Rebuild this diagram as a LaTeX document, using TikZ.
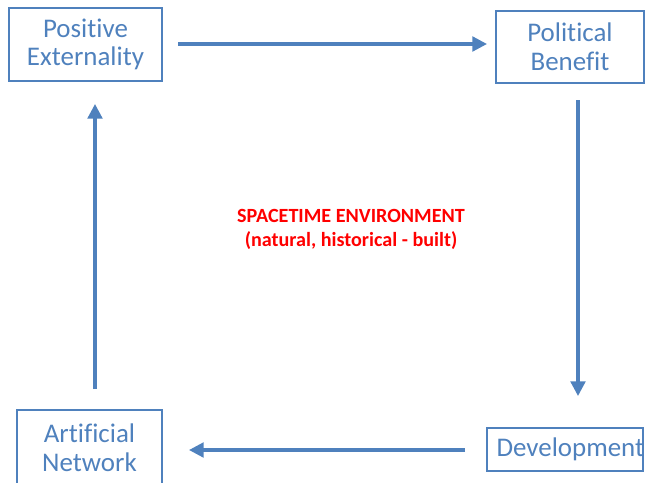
\documentclass[tikz,border=0pt]{standalone}
\usepackage{fontspec}
\setmainfont[Ligatures=NoCommon]{Carlito}
\usetikzlibrary{arrows.meta}
\definecolor{boxblue}{RGB}{79,129,189}
\definecolor{txtblue}{RGB}{79,129,189}
\definecolor{envred}{RGB}{255,0,0}
\begin{document}
\begin{tikzpicture}[x=0.75pt,y=-0.75pt,
  box/.style={draw=boxblue,line width=1.1pt,text=txtblue,align=center,inner sep=0pt,
    font=\fontsize{20.2pt}{21.5pt}\selectfont},
  flow/.style={draw=boxblue,line width=2.4pt,-{Triangle[length=11pt,width=11pt]}}]
\useasboundingbox (0,0) rectangle (645,482);
\clip (0,0) rectangle (645,482);
\node[box,minimum width=153*0.75pt,minimum height=73*0.75pt] (pe) at (85.5,44.5) {Positive\\Externality};
\node[box,minimum width=148*0.75pt,minimum height=72*0.75pt] (pb) at (570,47) {Political\\Benefit};
\node[box,minimum width=145*0.75pt,minimum height=76*0.75pt] (an) at (89.5,448) {Artificial\\Network};
\node[box,minimum width=156*0.75pt,minimum height=43*0.75pt] (dev) at (565,449.5) {};
\node[box,draw=none] (devtext) at (dev.center) [xshift=4pt] {Development};
\node[text=envred,align=center,font=\bfseries\fontsize{15.1pt}{18pt}\selectfont] (env) at (351,229)
  {SPACETIME ENVIRONMENT\\(natural, historical - built)};
\coordinate (a1s) at (178,44);
\coordinate (a1e) at (487,44);
\coordinate (a2s) at (578,100);
\coordinate (a2e) at (578,396);
\coordinate (a3s) at (465,450);
\coordinate (a3e) at (189,450);
\coordinate (a4s) at (95,389);
\coordinate (a4e) at (95,104);
\draw[flow] (a1s) -- (a1e);
\draw[flow] (a2s) -- (a2e);
\draw[flow] (a3s) -- (a3e);
\draw[flow] (a4s) -- (a4e);
\end{tikzpicture}
\end{document}
